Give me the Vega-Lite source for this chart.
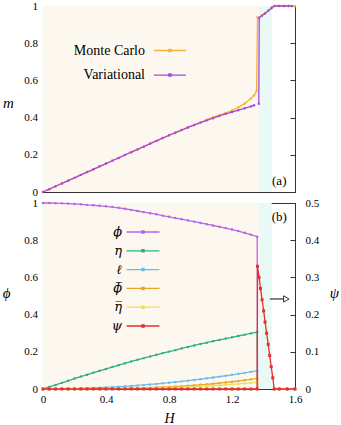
{
"$schema": "https://vega.github.io/schema/vega-lite/v6.json",
"padding": {"left": 2, "top": 0, "right": 0, "bottom": 0},
"bounds": "flush",
"spacing": 11,
"config": {
  "font": "'Liberation Serif', 'Times New Roman', Times, serif",
  "view": {"stroke": null},
  "text": {"font": "'Liberation Serif', 'Times New Roman', Times, serif"},
  "axis": {"grid": false, "domain": true, "domainColor": "#333", "domainWidth": 1, "ticks": true, "tickSize": -5, "tickColor": "#333", "tickWidth": 1, "labelFont": "'Liberation Serif', 'Times New Roman', Times, serif", "labelFontSize": 11, "labelColor": "#000", "labelFlush": false, "titleFont": "'Liberation Serif', 'Times New Roman', Times, serif", "titleFontSize": 15, "titleFontStyle": "italic", "titleFontWeight": "normal", "titleColor": "#000", "titleAngle": 0, "titleAlign": "center", "titleBaseline": "middle", "zindex": 1},
  "legend": {"labelFont": "'Liberation Serif', 'Times New Roman', Times, serif"}
},
"datasets": {
"top": [
{"H":0,"Monte Carlo":0,"Variational":0},
{"H":0.04,"Monte Carlo":0.015,"Variational":0.015},
{"H":0.08,"Monte Carlo":0.031,"Variational":0.031},
{"H":0.12,"Monte Carlo":0.046,"Variational":0.046},
{"H":0.16,"Monte Carlo":0.061,"Variational":0.061},
{"H":0.2,"Monte Carlo":0.076,"Variational":0.076},
{"H":0.24,"Monte Carlo":0.092,"Variational":0.092},
{"H":0.28,"Monte Carlo":0.107,"Variational":0.107},
{"H":0.32,"Monte Carlo":0.122,"Variational":0.122},
{"H":0.36,"Monte Carlo":0.138,"Variational":0.138},
{"H":0.4,"Monte Carlo":0.153,"Variational":0.153},
{"H":0.44,"Monte Carlo":0.168,"Variational":0.168},
{"H":0.48,"Monte Carlo":0.183,"Variational":0.183},
{"H":0.52,"Monte Carlo":0.199,"Variational":0.199},
{"H":0.56,"Monte Carlo":0.214,"Variational":0.214},
{"H":0.6,"Monte Carlo":0.229,"Variational":0.229},
{"H":0.64,"Monte Carlo":0.244,"Variational":0.244},
{"H":0.68,"Monte Carlo":0.26,"Variational":0.26},
{"H":0.72,"Monte Carlo":0.275,"Variational":0.275},
{"H":0.76,"Monte Carlo":0.29,"Variational":0.29},
{"H":0.8,"Monte Carlo":0.305,"Variational":0.305},
{"H":0.84,"Monte Carlo":0.319,"Variational":0.319},
{"H":0.88,"Monte Carlo":0.333,"Variational":0.333},
{"H":0.92,"Monte Carlo":0.347,"Variational":0.347},
{"H":0.96,"Monte Carlo":0.361,"Variational":0.36},
{"H":1.0,"Monte Carlo":0.375,"Variational":0.373},
{"H":1.04,"Monte Carlo":0.389,"Variational":0.385},
{"H":1.08,"Monte Carlo":0.402,"Variational":0.397},
{"H":1.12,"Monte Carlo":0.413,"Variational":0.409},
{"H":1.16,"Monte Carlo":0.425,"Variational":0.42},
{"H":1.2,"Monte Carlo":0.438,"Variational":0.43},
{"H":1.24,"Monte Carlo":0.455,"Variational":0.44},
{"H":1.28,"Monte Carlo":0.476,"Variational":0.45},
{"H":1.32,"Monte Carlo":0.502,"Variational":0.46},
{"H":1.34,"Monte Carlo":0.52,"Variational":0.466},
{"H":1.356,"Monte Carlo":0.543},
{"H":1.362,"Monte Carlo":0.94},
{"H":1.37,"Variational":0.475},
{"H":1.373,"Variational":0.937},
{"H":1.39,"Monte Carlo":0.95,"Variational":0.948},
{"H":1.41,"Monte Carlo":0.962,"Variational":0.96},
{"H":1.43,"Monte Carlo":0.975,"Variational":0.974},
{"H":1.45,"Monte Carlo":0.99,"Variational":0.988},
{"H":1.47,"Monte Carlo":1,"Variational":1},
{"H":1.5,"Monte Carlo":1,"Variational":1},
{"H":1.53,"Monte Carlo":1,"Variational":1},
{"H":1.56,"Monte Carlo":1,"Variational":1},
{"H":1.58,"Monte Carlo":1,"Variational":1},
{"H":1.6,"Monte Carlo":1}
],
"bottom": [
{"H":0,"phi":1,"eta":0,"ell":0,"phib":0,"etab":0,"psi":0},
{"H":0.04,"phi":1,"eta":0.011,"ell":0.0001,"phib":0,"etab":0,"psi":0},
{"H":0.08,"phi":0.999,"eta":0.022,"ell":0.0003,"phib":0,"etab":0,"psi":0},
{"H":0.12,"phi":0.998,"eta":0.033,"ell":0.0008,"phib":0,"etab":0,"psi":0},
{"H":0.16,"phi":0.997,"eta":0.044,"ell":0.0014,"phib":0.0001,"etab":0,"psi":0},
{"H":0.2,"phi":0.995,"eta":0.056,"ell":0.0021,"phib":0.0002,"etab":0.0001,"psi":0},
{"H":0.24,"phi":0.993,"eta":0.067,"ell":0.0031,"phib":0.0003,"etab":0.0002,"psi":0},
{"H":0.28,"phi":0.99,"eta":0.077,"ell":0.0042,"phib":0.0005,"etab":0.0003,"psi":0},
{"H":0.32,"phi":0.988,"eta":0.088,"ell":0.0054,"phib":0.0007,"etab":0.0005,"psi":0},
{"H":0.36,"phi":0.985,"eta":0.098,"ell":0.0069,"phib":0.0011,"etab":0.0007,"psi":0},
{"H":0.4,"phi":0.982,"eta":0.108,"ell":0.0085,"phib":0.0014,"etab":0.0009,"psi":0},
{"H":0.44,"phi":0.978,"eta":0.118,"ell":0.0103,"phib":0.0019,"etab":0.0012,"psi":0},
{"H":0.48,"phi":0.974,"eta":0.128,"ell":0.0122,"phib":0.0025,"etab":0.0016,"psi":0},
{"H":0.52,"phi":0.969,"eta":0.138,"ell":0.0143,"phib":0.0032,"etab":0.002,"psi":0},
{"H":0.56,"phi":0.963,"eta":0.148,"ell":0.0166,"phib":0.004,"etab":0.0025,"psi":0},
{"H":0.6,"phi":0.957,"eta":0.157,"ell":0.0191,"phib":0.0049,"etab":0.0031,"psi":0},
{"H":0.64,"phi":0.951,"eta":0.166,"ell":0.0217,"phib":0.0059,"etab":0.0037,"psi":0},
{"H":0.68,"phi":0.945,"eta":0.175,"ell":0.0245,"phib":0.0071,"etab":0.0045,"psi":0},
{"H":0.72,"phi":0.939,"eta":0.184,"ell":0.0275,"phib":0.0084,"etab":0.0053,"psi":0},
{"H":0.76,"phi":0.932,"eta":0.193,"ell":0.0306,"phib":0.0099,"etab":0.0063,"psi":0},
{"H":0.8,"phi":0.926,"eta":0.201,"ell":0.0339,"phib":0.0115,"etab":0.0073,"psi":0},
{"H":0.84,"phi":0.919,"eta":0.209,"ell":0.0374,"phib":0.0133,"etab":0.0085,"psi":0},
{"H":0.88,"phi":0.913,"eta":0.218,"ell":0.041,"phib":0.0153,"etab":0.0097,"psi":0},
{"H":0.92,"phi":0.906,"eta":0.226,"ell":0.0449,"phib":0.0175,"etab":0.0111,"psi":0},
{"H":0.96,"phi":0.9,"eta":0.234,"ell":0.0488,"phib":0.0199,"etab":0.0127,"psi":0},
{"H":1.0,"phi":0.893,"eta":0.242,"ell":0.053,"phib":0.0225,"etab":0.0143,"psi":0},
{"H":1.04,"phi":0.886,"eta":0.249,"ell":0.0573,"phib":0.0253,"etab":0.0161,"psi":0},
{"H":1.08,"phi":0.879,"eta":0.257,"ell":0.0618,"phib":0.0283,"etab":0.018,"psi":0},
{"H":1.12,"phi":0.872,"eta":0.264,"ell":0.0665,"phib":0.0316,"etab":0.0201,"psi":0},
{"H":1.16,"phi":0.865,"eta":0.271,"ell":0.0713,"phib":0.0351,"etab":0.0223,"psi":0},
{"H":1.2,"phi":0.857,"eta":0.278,"ell":0.0763,"phib":0.0389,"etab":0.0247,"psi":0},
{"H":1.24,"phi":0.849,"eta":0.285,"ell":0.0815,"phib":0.0429,"etab":0.0273,"psi":0},
{"H":1.28,"phi":0.84,"eta":0.292,"ell":0.0868,"phib":0.0472,"etab":0.03,"psi":0},
{"H":1.32,"phi":0.83,"eta":0.299,"ell":0.0923,"phib":0.0518,"etab":0.0329,"psi":0},
{"H":1.36,"phi":0.819,"eta":0.306,"ell":0.098,"phib":0.0566,"etab":0.036,"psi":0},
{"H":1.362,"phi":0,"eta":0,"ell":0,"phib":0,"etab":0,"psi":0.33},
{"H":1.372,"psi":0.3},
{"H":1.381,"psi":0.27},
{"H":1.391,"psi":0.24},
{"H":1.401,"psi":0.21},
{"H":1.41,"psi":0.18},
{"H":1.42,"psi":0.15},
{"H":1.43,"psi":0.12},
{"H":1.439,"psi":0.09},
{"H":1.449,"psi":0.06},
{"H":1.459,"psi":0.03},
{"H":1.468,"phi":0,"eta":0,"ell":0,"phib":0,"etab":0,"psi":0},
{"H":1.5,"phi":0,"eta":0,"ell":0,"phib":0,"etab":0,"psi":0},
{"H":1.55,"phi":0,"eta":0,"ell":0,"phib":0,"etab":0,"psi":0},
{"H":1.6,"phi":0,"eta":0,"ell":0,"phib":0,"etab":0,"psi":0}
]
},
"resolve": {"scale": {"color": "independent"}},
"vconcat": [
{
  "width": 252, "height": 186,
  "resolve": {"axis": {"x": "independent", "y": "independent"}},
  "layer": [
    {"data": {"values": [{"a": 0, "b": 1.371, "lo": 0, "hi": 1}]},
     "mark": {"type": "rect", "color": "#fdf8ef"},
     "encoding": {
       "x": {"field": "a", "type": "quantitative", "scale": {"domain": [0, 1.6], "nice": false}, "axis": {"orient": "bottom", "values": [0, 0.4, 0.8, 1.2, 1.6], "labels": false, "title": null}},
       "x2": {"field": "b"},
       "y": {"field": "lo", "type": "quantitative", "scale": {"domain": [0, 1], "nice": false}, "axis": null},
       "y2": {"field": "hi"}
     }},
    {"data": {"values": [{"a": 1.371, "b": 1.452, "lo": 0, "hi": 1}]},
     "mark": {"type": "rect", "color": "#e8f9f6"},
     "encoding": {
       "x": {"field": "a", "type": "quantitative", "scale": {"domain": [0, 1.6], "nice": false}, "axis": {"orient": "top", "values": [0, 0.4, 0.8, 1.2, 1.6], "labels": false, "title": null}},
       "x2": {"field": "b"},
       "y": {"field": "lo", "type": "quantitative", "scale": {"domain": [0, 1], "nice": false}, "axis": null},
       "y2": {"field": "hi"}
     }},
    {"data": {"name": "top"},
     "transform": [{"fold": ["Monte Carlo", "Variational"], "as": ["series", "m"]}],
     "mark": {"type": "line", "strokeWidth": 1.3, "point": {"filled": true, "size": 6}},
     "encoding": {
       "x": {"field": "H", "type": "quantitative", "scale": {"domain": [0, 1.6], "nice": false}, "axis": null},
       "y": {"field": "m", "type": "quantitative", "scale": {"domain": [0, 1], "nice": false}, "axis": {"orient": "left", "values": [0, 0.2, 0.4, 0.6, 0.8, 1], "format": "~g", "title": "m", "titleX": -35, "titleY": 96, "labelPadding": 10.5}},
       "color": {"field": "series", "type": "nominal", "scale": {"domain": ["Monte Carlo", "Variational"], "range": ["#f4b23c", "#a847de"]},
         "legend": {"orient": "none", "legendX": 120, "legendY": 37.5, "title": null, "padding": 0, "symbolType": "M-2.67,0H2.67M-0.18,-0.18H0.18V0.18H-0.18Z", "symbolSize": 144, "symbolStrokeWidth": 1.3, "labelAlign": "right", "labelOffset": -32, "labelFontSize": 14, "labelColor": "#000", "labelBaseline": "middle", "rowPadding": 10.6}}
     }},
    {"data": {"values": [{}]},
     "mark": {"type": "text", "fontSize": 13, "color": "#000"},
     "encoding": {
       "x": {"datum": 1.5, "type": "quantitative", "scale": {"domain": [0, 1.6], "nice": false}, "axis": null},
       "y": {"datum": 0.06, "type": "quantitative", "scale": {"domain": [0, 1], "nice": false}, "axis": {"orient": "right", "values": [0, 0.2, 0.4, 0.6, 0.8, 1], "labels": false, "title": null}},
       "text": {"value": "(a)"}
     }}
  ]
},
{
  "width": 252, "height": 186,
  "resolve": {"scale": {"y": "independent"}, "axis": {"x": "independent", "y": "independent"}},
  "layer": [
    {"data": {"values": [{"a": 0, "b": 1.371, "lo": 0, "hi": 1}]},
     "mark": {"type": "rect", "color": "#fdf8ef"},
     "encoding": {
       "x": {"field": "a", "type": "quantitative", "scale": {"domain": [0, 1.6], "nice": false}, "axis": {"orient": "bottom", "values": [0, 0.4, 0.8, 1.2, 1.6], "format": "~g", "labelPadding": 9, "title": "H", "titleY": 29, "titleFontSize": 14}},
       "x2": {"field": "b"},
       "y": {"field": "lo", "type": "quantitative", "scale": {"domain": [0, 1], "nice": false}, "axis": null},
       "y2": {"field": "hi"}
     }},
    {"data": {"values": [{"a": 1.371, "b": 1.452, "lo": 0, "hi": 1}]},
     "mark": {"type": "rect", "color": "#e8f9f6"},
     "encoding": {
       "x": {"field": "a", "type": "quantitative", "scale": {"domain": [0, 1.6], "nice": false}, "axis": {"orient": "top", "values": [0, 0.4, 0.8, 1.2, 1.6], "labels": false, "title": null}},
       "x2": {"field": "b"},
       "y": {"field": "lo", "type": "quantitative", "scale": {"domain": [0, 1], "nice": false}, "axis": null},
       "y2": {"field": "hi"}
     }},
    {"data": {"name": "bottom"},
     "transform": [{"fold": ["phi", "eta", "ell", "phib", "etab"], "as": ["series", "v"]}],
     "mark": {"type": "line", "strokeWidth": 1.3, "point": {"filled": true, "size": 6}},
     "encoding": {
       "x": {"field": "H", "type": "quantitative", "scale": {"domain": [0, 1.6], "nice": false}, "axis": null},
       "y": {"field": "v", "type": "quantitative", "scale": {"domain": [0, 1], "nice": false}, "axis": {"orient": "left", "values": [0, 0.2, 0.4, 0.6, 0.8, 1], "format": "~g", "title": "\u03d5", "titleX": -37, "titleY": 89, "labelPadding": 10.5}},
       "color": {"field": "series", "type": "nominal", "scale": {"domain": ["phi", "eta", "ell", "phib", "etab", "psi"], "range": ["#b565e6", "#2fae86", "#6cbce9", "#e9a423", "#ede05a", "#e4302a"]},
         "legend": {"orient": "none", "legendX": 93, "legendY": 22, "title": null, "padding": 0, "symbolType": "M-2.75,0H2.75M-0.18,-0.18H0.18V0.18H-0.18Z", "symbolSize": 144, "symbolStrokeWidth": 1.3, "labelAlign": "right", "labelOffset": -28, "labelFont": "DejaVu Serif", "labelFontSize": 13, "labelFontStyle": "italic", "labelColor": "#000", "labelBaseline": "middle", "rowPadding": 4.8,
           "labelExpr": "datum.label=='phi'?'\u03d5':datum.label=='eta'?'\u03b7':datum.label=='ell'?'\u2113':datum.label=='phib'?'\u03d5\u0305':datum.label=='etab'?'\u03b7\u0305':'\u03c8'"}}
     }},
    {"data": {"name": "bottom"},
     "transform": [{"fold": ["psi"], "as": ["series", "v"]}],
     "mark": {"type": "line", "strokeWidth": 1.3, "point": {"filled": true, "size": 9, "shape": "square"}},
     "encoding": {
       "x": {"field": "H", "type": "quantitative", "scale": {"domain": [0, 1.6], "nice": false}, "axis": null},
       "y": {"field": "v", "type": "quantitative", "scale": {"domain": [0, 0.5], "nice": false}, "axis": {"orient": "right", "values": [0, 0.1, 0.2, 0.3, 0.4, 0.5], "format": "~g", "title": "\u03c8", "titleX": 39, "titleY": 89, "labelPadding": 15}},
       "color": {"field": "series", "type": "nominal", "scale": {"domain": ["phi", "eta", "ell", "phib", "etab", "psi"], "range": ["#b565e6", "#2fae86", "#6cbce9", "#e9a423", "#ede05a", "#e4302a"]}}
     }},
    {"data": {"values": [{}]},
     "mark": {"type": "rule", "color": "#333", "strokeWidth": 1.2},
     "encoding": {
       "x": {"datum": 1.44, "type": "quantitative", "scale": {"domain": [0, 1.6], "nice": false}, "axis": null},
       "x2": {"datum": 1.53},
       "y": {"datum": 0.484, "type": "quantitative", "scale": {"domain": [0, 1], "nice": false}, "axis": null}
     }},
    {"data": {"values": [{}]},
     "mark": {"type": "point", "shape": "triangle-right", "filled": true, "fill": "#ffffff", "stroke": "#333", "strokeWidth": 1, "size": 40, "opacity": 1},
     "encoding": {
       "x": {"datum": 1.545, "type": "quantitative", "scale": {"domain": [0, 1.6], "nice": false}, "axis": null},
       "y": {"datum": 0.484, "type": "quantitative", "scale": {"domain": [0, 1], "nice": false}, "axis": null}
     }},
    {"data": {"values": [{}]},
     "mark": {"type": "text", "fontSize": 13, "color": "#000"},
     "encoding": {
       "x": {"datum": 1.5, "type": "quantitative", "scale": {"domain": [0, 1.6], "nice": false}, "axis": null},
       "y": {"datum": 0.923, "type": "quantitative", "scale": {"domain": [0, 1], "nice": false}, "axis": null},
       "text": {"value": "(b)"}
     }}
  ]
}
]
}
